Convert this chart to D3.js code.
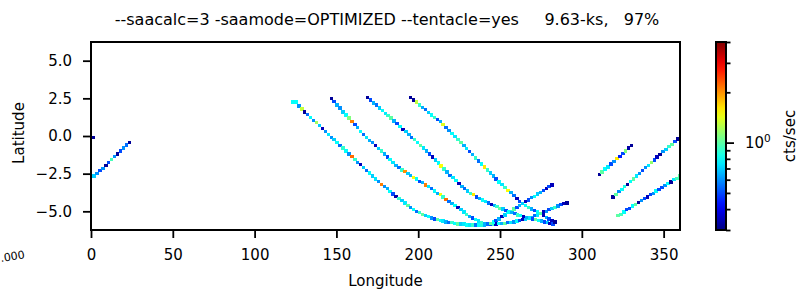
<!DOCTYPE html>
<meta charset="utf-8">
<html>
<head>
<style>
  body { margin: 0; background: #fff; }
  text { font-family: "DejaVu Sans", sans-serif; fill: #000; }
  .axis text { font-size: 15px; }
  .axis line { stroke: #000; stroke-width: 1.8px; }
  .axis path { display: none; }
  rect.frame { fill: none; stroke: #000; stroke-width: 2px; }
</style>
<script src="https://cdnjs.cloudflare.com/ajax/libs/d3/7.8.5/d3.min.js"></script>
</head>
<body>
<div id="chart"></div>
<script>
// histogram bin step (deg)
var lonBin = 1.8;
// drawn size of one bin (deg)
var cellW = 2.1, cellH = 0.22;

// single isolated bin
var single_lon = [0.4], single_lat = [-0.08], single_val = [0.32];

// each pass: first lon bin, latitude per consecutive lon bin, rate per bin (cts/sec)
var trackA_lon0 = 0.8;
var trackA_lat = [-2.65,-2.5,-2.3,-2.15,-1.95,-1.75,-1.55,-1.35,-1.2,-1.0,-0.8,-0.6,-0.45];
var trackA_val = [0.7,0.6,0.5,0.6,0.32,0.5,0.95,0.6,0.32,0.5,0.6,0.55,0.32];

var trackB_lon0 = 122.4;
var trackB_lat = [2.25,2.25,2.0,1.8,1.6,1.45,1.25,1.05,0.9,0.7,
  0.5,0.3,0.1,-0.1,-0.25,-0.45,-0.65,-0.8,-1.0,-1.2,
  -1.35,-1.55,-1.75,-1.9,-2.1,-2.3,-2.45,-2.65,-2.85,-3.0,
  -3.2,-3.35,-3.5,-3.7,-3.85,-4.0,-4.15,-4.3,-4.45,-4.6,
  -4.75,-4.9,-5.0,-5.1,-5.2,-5.3,-5.35,-5.45,-5.5,-5.55,
  -5.6,-5.65,-5.7,-5.75,-5.75,-5.8,-5.85,-5.85,-5.85,-5.9,
  -5.9,-5.9,-5.9,-5.9,-5.9,-5.9,-5.85,-5.85,-5.85,-5.85,
  -5.8,-5.8,-5.8,-5.75,-5.75,-5.7,-5.65,-5.6,-5.55,-5.5,
  -5.45,-5.4,-5.3,-5.25,-5.15,-5.05,-5.0,-4.9,-4.8,-4.75,
  -4.65,-4.55,-4.5,-4.45];
var trackB_val = [0.8,0.8,0.6,1.3,0.32,0.55,0.8,0.6,1.2,0.7,
  0.35,0.6,0.75,0.6,0.7,0.8,0.55,0.9,0.8,0.6,
  2.2,0.9,0.6,0.35,0.7,0.55,0.8,0.7,0.75,0.6,
  2.1,0.6,0.65,0.8,0.5,0.33,0.9,0.7,0.75,1.0,
  0.6,0.8,0.55,0.9,1.0,0.7,0.8,0.6,0.5,1.0,
  0.8,0.75,0.65,0.55,0.9,0.8,1.0,0.7,0.75,0.8,
  0.75,0.9,0.55,0.8,0.85,0.65,0.75,0.5,0.9,0.35,
  0.8,0.65,1.0,0.55,0.75,0.6,0.8,0.5,0.35,0.7,
  0.9,0.65,0.55,0.75,0.8,0.35,0.6,0.5,0.7,0.9,
  0.6,0.5,0.35,0.32];

var trackC_lon0 = 145.8;
var trackC_lat = [2.5,2.3,2.05,1.85,1.6,1.4,1.2,0.95,0.75,0.55,
  0.3,0.1,-0.1,-0.3,-0.45,-0.65,-0.85,-1.0,-1.2,-1.4,
  -1.55,-1.75,-1.95,-2.1,-2.25,-2.35,-2.5,-2.6,-2.75,-2.85,
  -3.0,-3.1,-3.25,-3.35,-3.5,-3.65,-3.8,-3.9,-4.05,-4.2,
  -4.35,-4.5,-4.6,-4.75,-4.9,-5.05,-5.2,-5.35,-5.45,-5.55,
  -5.65,-5.75,-5.8,-5.85,-5.8,-5.7,-5.6,-5.5,-5.35,-5.25,
  -5.1,-5.0,-4.85,-4.75,-4.6,-4.5,-4.35,-4.25,-4.1,-4.0,
  -3.85,-3.75,-3.6,-3.5,-3.35,-3.25];
var trackC_val = [0.32,0.5,0.65,0.6,0.7,0.8,1.1,2.1,0.5,0.65,
  0.8,0.55,0.75,0.65,0.6,0.35,0.7,0.9,0.65,0.5,
  0.8,0.75,0.65,0.55,0.9,2.0,0.7,0.65,1.5,0.8,
  0.5,0.65,2.1,0.75,0.55,0.8,0.65,1.5,0.9,2.2,
  0.55,0.65,0.8,0.35,0.7,0.75,0.9,0.65,0.5,0.8,
  0.75,0.9,0.65,0.55,1.0,0.8,0.5,0.65,0.35,0.7,
  0.8,0.9,1.0,0.5,0.65,0.75,0.35,0.5,0.6,0.8,
  0.7,0.65,0.5,0.35,0.5,0.35];

var trackD_lon0 = 168.0;
var trackD_lat = [2.55,2.4,2.2,2.05,1.85,1.7,1.5,1.35,1.2,1.0,
  0.85,0.65,0.45,0.3,0.1,-0.1,-0.25,-0.45,-0.65,-0.8,
  -1.0,-1.2,-1.4,-1.6,-1.8,-2.0,-2.2,-2.4,-2.6,-2.75,
  -2.95,-3.15,-3.35,-3.5,-3.65,-3.8,-3.9,-4.05,-4.15,-4.25,
  -4.35,-4.45,-4.55,-4.6,-4.7,-4.8,-4.85,-4.95,-5.0,-5.1,
  -5.15,-5.25,-5.3,-5.35,-5.4,-5.45,-5.5,-5.55,-5.6,-5.65,
  -5.7,-5.75,-5.8,-5.85];
var trackD_val = [0.32,0.5,0.65,0.55,0.7,0.8,0.75,0.9,1.0,0.65,
  0.5,0.8,0.35,0.7,0.65,0.55,0.9,0.8,1.0,0.75,
  0.65,0.5,0.35,0.7,0.8,1.5,0.9,0.65,0.55,0.75,
  0.8,0.35,0.65,0.55,0.7,0.9,1.6,0.5,0.65,0.8,
  0.75,0.55,0.35,0.65,0.9,1.0,0.7,0.5,0.8,0.65,
  0.55,0.9,0.8,0.35,0.65,0.75,0.5,1.0,0.8,0.65,
  0.5,0.7,0.35,0.5];

var trackE_lon0 = 194.4;
var trackE_lat = [2.55,2.4,2.25,2.05,1.9,1.75,1.55,1.4,1.25,1.1,
  0.95,0.75,0.55,0.35,0.15,-0.05,-0.25,-0.45,-0.65,-0.85,
  -1.05,-1.25,-1.45,-1.65,-1.85,-2.05,-2.25,-2.45,-2.65,-2.85,
  -3.05,-3.2,-3.4,-3.6,-3.75,-3.95,-4.15,-4.35,-4.5,-4.6,
  -4.75,-4.85,-4.95,-5.05,-5.15,-5.3,-5.4,-5.5,-5.6,-5.7];
var trackE_val = [0.32,0.32,1.3,0.9,0.65,0.55,0.7,0.8,0.9,0.5,
  0.65,1.4,0.55,0.6,0.8,0.75,0.9,1.0,0.65,0.75,
  0.5,0.65,0.9,0.55,0.8,1.6,0.9,0.7,0.65,0.5,
  0.8,0.75,0.9,1.5,0.65,0.55,0.35,0.5,0.7,0.8,
  0.9,0.65,0.5,0.8,1.0,0.35,0.65,0.5,0.35,0.32];

var trackF_lon0 = 309.6;
var trackF_lat = [-2.55,-2.4,-2.2,-2.05,-1.85,-1.7,-1.5,-1.35,-1.15,-1.0,-0.8,-0.65];
var trackF_val = [0.32,1.0,0.8,0.75,0.5,0.6,1.6,0.45,0.5,1.1,0.33,0.32];

var trackG_lon0 = 318.0;
var trackG_lat = [-4.05,-3.9,-3.7,-3.55,-3.35,-3.2,-3.0,-2.85,-2.65,-2.5,
  -2.3,-2.1,-1.95,-1.75,-1.6,-1.4,-1.25,-1.05,-0.9,-0.7,-0.55,-0.35,-0.2];
var trackG_val = [0.32,1.0,0.6,0.8,0.85,0.32,0.8,1.0,0.75,0.6,
  0.5,0.6,0.75,1.15,0.5,0.35,0.32,0.6,0.7,0.9,1.0,0.5,0.32];

var trackH_lon0 = 321.0;
var trackH_lat = [-5.3,-5.2,-5.05,-4.9,-4.8,-4.65,-4.55,-4.4,-4.3,-4.15,
  -4.05,-3.9,-3.8,-3.65,-3.55,-3.4,-3.3,-3.15,-3.05,-2.9,-2.8,-2.65];
var trackH_val = [1.0,0.95,0.8,0.5,0.5,0.8,1.0,0.32,0.6,0.5,
  0.35,0.5,0.6,0.8,0.5,0.5,0.6,0.8,0.32,0.75,0.95,1.0];

var xTicks = [0, 50, 100, 150, 200, 250, 300, 350];
var yTicks = [-5, -2.5, 0, 2.5, 5];
var cbMinor = [0.3, 0.4, 0.5, 0.6, 0.7, 0.8, 0.9, 2, 3, 4];
var titleText = "--saacalc=3 -saamode=OPTIMIZED --tentacle=yes     9.63-ks,   97%";

var W = 800, H = 289;
var plot = { left: 91, right: 680, top: 42, bottom: 230 };
var cbar = { left: 716, right: 726 };

var x = d3.scaleLinear().domain([0, 360]).range([plot.left, plot.right]);
var y = d3.scaleLinear().domain([-6.24, 6.24]).range([plot.bottom, plot.top]);
var c = d3.scaleLog().domain([0.3, 4]).range([0, 1]).clamp(true);

function jet(t) {
  function cl(v) { return Math.max(0, Math.min(1, v)); }
  var r = cl(1.5 - Math.abs(4 * t - 3)),
      g = cl(1.5 - Math.abs(4 * t - 2)),
      b = cl(1.5 - Math.abs(4 * t - 1));
  return d3.rgb(r * 255, g * 255, b * 255).formatHex();
}

var tracks = [
  [trackA_lon0, trackA_lat, trackA_val],
  [trackB_lon0, trackB_lat, trackB_val],
  [trackC_lon0, trackC_lat, trackC_val],
  [trackD_lon0, trackD_lat, trackD_val],
  [trackE_lon0, trackE_lat, trackE_val],
  [trackF_lon0, trackF_lat, trackF_val],
  [trackG_lon0, trackG_lat, trackG_val],
  [trackH_lon0, trackH_lat, trackH_val]
];
var cells = [];
single_lon.forEach(function(d, i) { cells.push({ lon: d, lat: single_lat[i], v: single_val[i] }); });
tracks.forEach(function(t) {
  t[1].forEach(function(lat, i) { cells.push({ lon: t[0] + i * lonBin, lat: lat, v: t[2][i] }); });
});

var svg = d3.select("#chart").append("svg")
    .attr("width", W).attr("height", H);

svg.append("clipPath").attr("id", "clip")
  .append("rect")
    .attr("x", plot.left).attr("y", plot.top)
    .attr("width", plot.right - plot.left).attr("height", plot.bottom - plot.top);

svg.append("g").attr("clip-path", "url(#clip)")
  .selectAll("rect").data(cells).enter().append("rect")
    .attr("x", function(d) { return x(d.lon); })
    .attr("y", function(d) { return y(d.lat + cellH / 2); })
    .attr("width", function(d) { return x(d.lon + cellW) - x(d.lon); })
    .attr("height", function(d) { return y(d.lat - cellH / 2) - y(d.lat + cellH / 2); })
    .attr("shape-rendering", "crispEdges")
    .style("fill", function(d) { return jet(c(d.v)); });

// axes
svg.append("g").attr("class", "axis")
    .attr("transform", "translate(0," + plot.bottom + ")")
    .call(d3.axisBottom(x).tickValues(xTicks).tickSize(8).tickPadding(11).tickFormat(d3.format("d")));

svg.append("g").attr("class", "axis")
    .attr("transform", "translate(" + plot.left + ",0)")
    .call(d3.axisLeft(y).tickValues(yTicks).tickSize(8).tickPadding(11).tickFormat(d3.format(".1f")));

svg.append("rect").attr("class", "frame")
    .attr("x", plot.left).attr("y", plot.top)
    .attr("width", plot.right - plot.left).attr("height", plot.bottom - plot.top);

// labels
svg.append("text")
    .attr("x", 387).attr("y", 25)
    .attr("text-anchor", "middle")
    .attr("xml:space", "preserve")
    .style("white-space", "pre")
    .style("font-size", "16px")
    .text(titleText);

svg.append("text")
    .attr("x", (plot.left + plot.right) / 2).attr("y", 286)
    .attr("text-anchor", "middle")
    .style("font-size", "15px")
    .text("Longitude");

svg.append("text")
    .attr("transform", "translate(24,133) rotate(-90)")
    .attr("text-anchor", "middle")
    .style("font-size", "15px")
    .text("Latitude");

svg.append("text")
    .attr("transform", "translate(1,262) rotate(-9)")
    .style("font-size", "11px")
    .text(".000");

// colorbar
var grad = svg.append("defs").append("linearGradient")
    .attr("id", "jet").attr("x1", 0).attr("y1", 1).attr("x2", 0).attr("y2", 0);
d3.range(0, 1.0001, 0.05).forEach(function(t) {
  grad.append("stop").attr("offset", t).attr("stop-color", jet(t));
});

var cy = d3.scaleLog().domain([0.3, 4]).range([plot.bottom, plot.top]);

svg.append("rect")
    .attr("x", cbar.left).attr("y", plot.top)
    .attr("width", cbar.right - cbar.left).attr("height", plot.bottom - plot.top)
    .style("fill", "url(#jet)");

svg.append("g").attr("class", "axis")
    .attr("transform", "translate(" + cbar.right + ",0)")
    .call(d3.axisRight(cy).tickValues(cbMinor).tickSize(4.5).tickFormat(""));

svg.append("g").attr("class", "axis")
    .attr("transform", "translate(" + cbar.right + ",0)")
    .call(d3.axisRight(cy).tickValues([1]).tickSize(8).tickFormat(""));

var lab = svg.append("text")
    .attr("x", 745).attr("y", cy(1) + 5.5)
    .style("font-size", "15px");
lab.append("tspan").text("10");
lab.append("tspan").attr("dy", -6.5).style("font-size", "10.5px").text("0");

svg.append("rect").attr("class", "frame")
    .attr("x", cbar.left).attr("y", plot.top)
    .attr("width", cbar.right - cbar.left).attr("height", plot.bottom - plot.top);

svg.append("text")
    .attr("transform", "translate(795," + (plot.top + plot.bottom) / 2 + ") rotate(-90)")
    .attr("text-anchor", "middle")
    .style("font-size", "15px")
    .text("cts/sec");
</script>
</body>
</html>
